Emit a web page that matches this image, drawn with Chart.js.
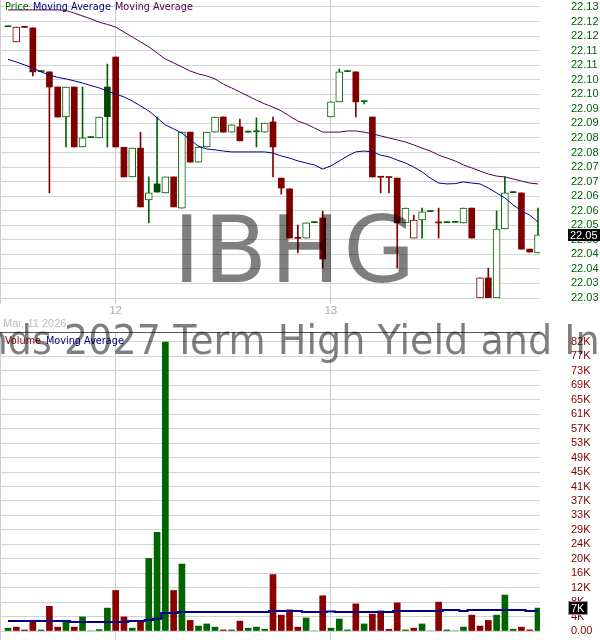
<!DOCTYPE html>
<html>
<head>
<meta charset="utf-8">
<script src="https://cdn.jsdelivr.net/npm/chart.js@4.4.1/dist/chart.umd.min.js"></script>
<style>
html,body{margin:0;padding:0;background:#fff;overflow:hidden;}
#wrap{position:relative;width:600px;height:640px;overflow:hidden;background:#fff;}
canvas{position:absolute;left:0;}
.tx{position:absolute;white-space:nowrap;line-height:1;font-family:"DejaVu Sans",sans-serif;}
.wm{color:rgba(0,0,0,0.5);pointer-events:none;z-index:5;}
</style>
</head>
<body>
<div id="wrap">
<canvas id="priceCanvas" width="600" height="320" style="top:0"></canvas>
<canvas id="volCanvas" width="600" height="320" style="top:320px"></canvas>
<div class="tx" id="lgPrice" style="left:5px;top:2px;font-size:9.7px;color:#006400"></div>
<div class="tx" id="lgMa1" style="left:33px;top:2px;font-size:9.7px;color:#000080"></div>
<div class="tx" id="lgMa2" style="left:115px;top:2px;font-size:9.7px;color:#500050"></div>
<div class="tx" id="lgVol" style="left:5px;top:336px;font-size:9.7px;color:#800000"></div>
<div class="tx" id="lgVolMa" style="left:46px;top:336px;font-size:9.7px;color:#000080"></div>
<div class="tx" id="dateLbl" style="left:3px;top:318px;font-family:'Liberation Sans',sans-serif;font-size:11px;color:#bbb"></div>
<div class="tx wm" id="wmSym" style="left:173px;top:204px;font-size:93px;letter-spacing:3px"></div>
<div class="tx wm" id="wmName" style="top:320px;font-size:41px;transform-origin:0 0;transform:scaleX(0.93)"></div>
</div>
<script>
// ---------------- DATA ----------------
const symbol = "IBHG";
const fundName = "iShares iBonds 2027 Term High Yield and Income ETF";
const dateLabel = "Mar, 11 2026";
const dayTicks = [13, 39];
const dayLabels = ["12", "13"];

const opens  = [22.1192,22.1140,22.1190,22.1188,22.1038,22.1037,22.0985,22.0882,22.0985,22.0779,
                22.0811,22.0810,22.0985,22.1088,22.0778,22.0676,22.0775,22.0597,22.0652,22.0621,
                22.0676,22.0569,22.0830,22.0727,22.0779,22.0830,22.0882,22.0830,22.0848,22.0830,
                22.0831,22.0830,22.0865,22.0672,22.0635,22.0465,22.0466,22.0519,22.0535,22.0882,
                22.0934,22.1038,22.1037,22.0935,22.0882,22.0675,22.0674,22.0672,22.0518,22.0466,
                22.0528,22.0557,22.0518,22.0519,22.0520,22.0518,22.0569,22.0260,22.0329,22.0260,
                22.0497,22.0622,22.0621,22.0428,22.0415];
const highs  = [22.1192,22.1191,22.1190,22.1188,22.1038,22.1037,22.0985,22.0985,22.0985,22.0985,
                22.0811,22.0882,22.1064,22.1088,22.0778,22.0775,22.0830,22.0676,22.0882,22.0676,
                22.0676,22.0830,22.0830,22.0779,22.0830,22.0882,22.0882,22.0855,22.0875,22.0830,
                22.0879,22.0861,22.0882,22.0672,22.0635,22.0511,22.0518,22.0519,22.0559,22.0934,
                22.1047,22.1038,22.1037,22.0935,22.0882,22.0675,22.0674,22.0672,22.0569,22.0545,
                22.0569,22.0557,22.0569,22.0519,22.0520,22.0569,22.0569,22.0329,22.0363,22.0559,
                22.0676,22.0622,22.0621,22.0428,22.0569];
const lows   = [22.1192,22.1140,22.1190,22.1023,22.1038,22.0621,22.0882,22.0779,22.0779,22.0779,
                22.0811,22.0810,22.0779,22.0779,22.0676,22.0676,22.0573,22.0518,22.0624,22.0621,
                22.0573,22.0569,22.0727,22.0727,22.0779,22.0830,22.0830,22.0830,22.0800,22.0830,
                22.0779,22.0830,22.0676,22.0617,22.0466,22.0415,22.0466,22.0519,22.0363,22.0882,
                22.0934,22.1038,22.0882,22.0927,22.0676,22.0621,22.0621,22.0363,22.0518,22.0466,
                22.0466,22.0557,22.0466,22.0519,22.0520,22.0518,22.0466,22.0260,22.0260,22.0260,
                22.0497,22.0622,22.0428,22.0418,22.0415];
const closes = [22.1192,22.1191,22.1190,22.1037,22.1038,22.0985,22.0882,22.0985,22.0779,22.0810,
                22.0811,22.0882,22.0883,22.0779,22.0676,22.0775,22.0573,22.0621,22.0624,22.0676,
                22.0573,22.0830,22.0727,22.0779,22.0830,22.0882,22.0830,22.0855,22.0800,22.0830,
                22.0831,22.0861,22.0779,22.0638,22.0466,22.0465,22.0518,22.0519,22.0394,22.0934,
                22.1037,22.1038,22.0934,22.0935,22.0676,22.0675,22.0674,22.0518,22.0569,22.0528,
                22.0556,22.0557,22.0518,22.0519,22.0520,22.0569,22.0466,22.0329,22.0260,22.0497,
                22.0621,22.0622,22.0428,22.0418,22.0477];
const maFast = [22.1080,22.1071,22.1061,22.1050,22.1037,22.1026,22.1018,22.1013,22.1006,22.0999,
                22.0990,22.0982,22.0971,22.0961,22.0951,22.0937,22.0920,22.0903,22.0879,22.0855,
                22.0841,22.0827,22.0803,22.0782,22.0772,22.0769,22.0765,22.0762,22.0762,22.0762,
                22.0762,22.0762,22.0758,22.0748,22.0741,22.0731,22.0724,22.0717,22.0703,22.0714,
                22.0731,22.0748,22.0762,22.0765,22.0762,22.0751,22.0745,22.0734,22.0724,22.0710,
                22.0693,22.0672,22.0655,22.0652,22.0653,22.0659,22.0655,22.0652,22.0638,22.0621,
                22.0604,22.0580,22.0559,22.0545,22.0521];
const maSlow = [22.1250,22.1250,22.1250,22.1250,22.1250,22.1250,22.1250,22.1248,22.1239,22.1229,
                22.1219,22.1208,22.1200,22.1191,22.1174,22.1157,22.1140,22.1123,22.1102,22.1081,
                22.1068,22.1054,22.1040,22.1030,22.1023,22.1013,22.0995,22.0982,22.0968,22.0954,
                22.0940,22.0927,22.0916,22.0903,22.0885,22.0868,22.0858,22.0844,22.0830,22.0830,
                22.0830,22.0834,22.0834,22.0830,22.0824,22.0817,22.0810,22.0803,22.0796,22.0786,
                22.0775,22.0765,22.0751,22.0741,22.0731,22.0717,22.0707,22.0696,22.0686,22.0679,
                22.0676,22.0669,22.0662,22.0655,22.0652];
const volumes = [800,1100,300,3000,300,7000,1100,2500,1100,4000,
                 0,400,6500,11500,4000,800,2800,20600,28000,82000,
                 11500,19000,3000,1400,2000,1100,300,300,2800,800,
                 1100,500,16000,4500,6000,1100,3700,0,10000,800,
                 3400,300,7700,2000,4800,5700,500,8000,300,800,
                 2000,0,8200,300,0,1100,4500,1400,3000,4500,
                 10200,500,1100,300,6500];
const volMA = [2840,2840,2840,2840,2840,2840,2840,2840,2550,2550,
               2550,2550,2550,2550,2550,2840,2840,3120,3500,5100,
               5100,5390,5390,5390,5390,5390,5390,5390,5390,5390,
               5390,5390,5670,5670,5670,5670,5390,5390,5390,5500,
               5390,5390,5390,5390,5390,5390,5390,5670,5670,5670,
               5670,5670,5670,5960,5960,5670,5960,5960,5960,5960,
               5960,5960,5960,5670,5670];
const priceTickValues = [22.026,22.031,22.036,22.041,22.046,22.051,22.056,22.061,22.066,22.071,
                         22.076,22.081,22.086,22.091,22.096,22.101,22.106,22.111,22.116,22.121,22.126];
const priceTickLabels = ["22.03","22.03","22.04","22.04","22.05","22.05","22.06","22.06","22.07","22.07",
                         "22.08","22.08","22.09","22.09","22.10","22.10","22.11","22.11","22.12","22.12","22.13"];
const volTickValues = [0,4100,8200,12300,16400,20500,24600,28700,32800,36900,41000,
                       45100,49200,53300,57400,61500,65600,69700,73800,77900,82000];
const volTickLabels = ["0.00","4K","8K","12K","16K","20K","24K","29K","33K","37K","41K",
                       "45K","49K","53K","57K","61K","65K","69K","73K","77K","82K"];

// ---------------- TEXT ----------------
document.getElementById('lgPrice').textContent = 'Price';
document.getElementById('lgMa1').textContent = 'Moving Average';
document.getElementById('lgMa2').textContent = 'Moving Average';
document.getElementById('lgVol').textContent = 'Volume';
document.getElementById('lgVolMa').textContent = 'Moving Average';
document.getElementById('dateLbl').textContent = dateLabel;
document.getElementById('wmSym').textContent = symbol;
const wmName = document.getElementById('wmName');
wmName.textContent = fundName;
(function(){
  const c = document.createElement('canvas').getContext('2d');
  c.font = '41px "DejaVu Sans"';
  const pre = fundName.slice(0, fundName.indexOf('2027'));
  const w = c.measureText(pre).width * 0.93;
  wmName.style.left = (64 - w) + 'px';
})();

// ---------------- HELPERS ----------------
const GREEN = '#006400', DKGREEN = '#004b00', RED = '#800000';
const VGREEN = '#006400', VRED = '#8b0000';
const isUp = i => i === 0 || closes[i] >= closes[i - 1];
const FONT = {family: 'Liberation Sans', size: 11};
const X_MIN = -0.966, X_MAX = 64.24;

const tagPlugin = {
  id: 'tags',
  afterDraw(chart, args, o) {
    if (!o || o.value === undefined) return;
    const ctx = chart.ctx;
    const y = Math.round(chart.scales.y.getPixelForValue(o.value));
    ctx.save();
    if (o.border) {
      ctx.fillStyle = '#999';
      ctx.fillRect(o.x - 1, y - o.h / 2 - 1, o.w + 2, o.h + 2);
    }
    ctx.fillStyle = '#000';
    ctx.fillRect(o.x, y - o.h / 2, o.w, o.h);
    ctx.fillStyle = '#fff';
    ctx.font = '11px "Liberation Sans"';
    ctx.textBaseline = 'middle';
    ctx.fillText(o.text, o.x + 2, y + 0.5);
    ctx.restore();
  }
};
const topBorderPlugin = {
  id: 'topBorder',
  afterDraw(chart, args, o) {
    if (!o || !o.color) return;
    const a = chart.chartArea, ctx = chart.ctx;
    ctx.save();
    ctx.strokeStyle = o.color; ctx.lineWidth = 1;
    ctx.beginPath(); ctx.moveTo(a.left, a.top + 0.5); ctx.lineTo(a.right, a.top + 0.5); ctx.stroke();
    ctx.restore();
  }
};

function xScale(showLabels, tickLen, h) {
  return {
    type: 'linear', min: X_MIN, max: X_MAX, offset: false,
    afterBuildTicks: s => { s.ticks = [{value: X_MIN}].concat(dayTicks.map(v => ({value: v}))); },
    ticks: {
      display: showLabels, autoSkip: false, maxRotation: 0, padding: 0, color: '#aaa', font: FONT,
      callback: v => { const k = dayTicks.indexOf(v); return k >= 0 ? dayLabels[k] : ''; }
    },
    grid: {color: '#cccccc', tickLength: tickLen, offset: false, drawOnChartArea: true},
    border: {display: false},
    afterFit: s => { s.height = h; s.paddingLeft = 0; s.paddingRight = 0; }
  };
}

// ---------------- PRICE CHART ----------------
const hollowData = closes.map((c, i) => ({x: i, y: c > opens[i] ? [opens[i], c] : null}));
const filledData = closes.map((c, i) => ({x: i, y: c > opens[i] ? null : [opens[i], c]}));
const wickData = closes.map((c, i) => ({x: i, y: [lows[i], highs[i]]}));

new Chart(document.getElementById('priceCanvas'), {
  type: 'bar',
  data: {
    datasets: [
      {type: 'line', data: maFast.map((v, i) => ({x: i, y: v})), borderColor: '#00008b', borderWidth: 1,
       pointRadius: 0, tension: 0, order: 0},
      {type: 'line', data: maSlow.map((v, i) => ({x: i, y: v})), borderColor: '#500050', borderWidth: 1,
       pointRadius: 0, tension: 0, order: 0},
      {data: hollowData, grouped: false, barThickness: 7, minBarLength: 1, borderSkipped: false,
       backgroundColor: '#ffffff', borderWidth: 1,
       borderColor: ctx => isUp(ctx.dataIndex) ? GREEN : RED, order: 1},
      {data: filledData, grouped: false, barThickness: 6, minBarLength: 1, borderWidth: 0,
       backgroundColor: ctx => { const i = ctx.dataIndex; if (!isUp(i)) return RED; return closes[i] < opens[i] ? DKGREEN : GREEN; },
       order: 1},
      {data: wickData, grouped: false, barThickness: 1, minBarLength: 1, borderWidth: 0,
       backgroundColor: ctx => isUp(ctx.dataIndex) ? GREEN : RED, order: 2}
    ]
  },
  options: {
    responsive: false, animation: false, devicePixelRatio: 1,
    layout: {padding: {top: 0, bottom: 2, left: 0, right: 0}},
    plugins: {
      legend: {display: false}, tooltip: {enabled: false},
      tags: {value: closes[closes.length - 1], text: closes[closes.length - 1].toFixed(2), x: 568, w: 32, h: 12, border: false}
    },
    scales: {
      x: xScale(true, 6, 20),
      y: {
        position: 'right', min: 22.026, max: 22.1284,
        afterBuildTicks: s => { s.ticks = priceTickValues.map(v => ({value: v})); },
        ticks: {autoSkip: false, padding: 31, color: '#006400', font: FONT,
                callback: (v, i) => priceTickLabels[i]},
        grid: {color: '#d3d3d3', drawTicks: false},
        border: {display: false},
        afterFit: s => { s.width = 60; s.paddingTop = 0; s.paddingBottom = 0; }
      }
    }
  },
  plugins: [tagPlugin]
});

// ---------------- VOLUME CHART ----------------
const lastVol = volumes[volumes.length - 1];
new Chart(document.getElementById('volCanvas'), {
  type: 'bar',
  data: {
    datasets: [
      {type: 'line', data: volMA.map((v, i) => ({x: i, y: v})), borderColor: '#00008b', borderWidth: 2,
       pointRadius: 0, stepped: 'middle', order: 0},
      {data: volumes.map((v, i) => ({x: i, y: v})), grouped: false, barThickness: 6, borderWidth: 0,
       backgroundColor: ctx => isUp(ctx.dataIndex) ? VGREEN : VRED, order: 1}
    ]
  },
  options: {
    responsive: false, animation: false, devicePixelRatio: 1,
    layout: {padding: {top: 12, bottom: 0, left: 0, right: 0}},
    plugins: {
      legend: {display: false}, tooltip: {enabled: false},
      tags: {value: lastVol, text: Math.round(lastVol / 1000) + 'K', x: 569, w: 18, h: 12, border: true},
      topBorder: {color: '#555555'}
    },
    scales: {
      x: xScale(false, 9, 9),
      y: {
        position: 'right', min: 0, max: 84837,
        afterBuildTicks: s => { s.ticks = volTickValues.map(v => ({value: v})); },
        ticks: {autoSkip: false, padding: 31, color: '#800000', font: FONT,
                callback: (v, i) => volTickLabels[i]},
        grid: {color: '#d3d3d3', drawTicks: false},
        border: {display: false},
        afterFit: s => { s.width = 60; s.paddingTop = 0; s.paddingBottom = 0; }
      }
    }
  },
  plugins: [tagPlugin, topBorderPlugin]
});
</script>
</body>
</html>
